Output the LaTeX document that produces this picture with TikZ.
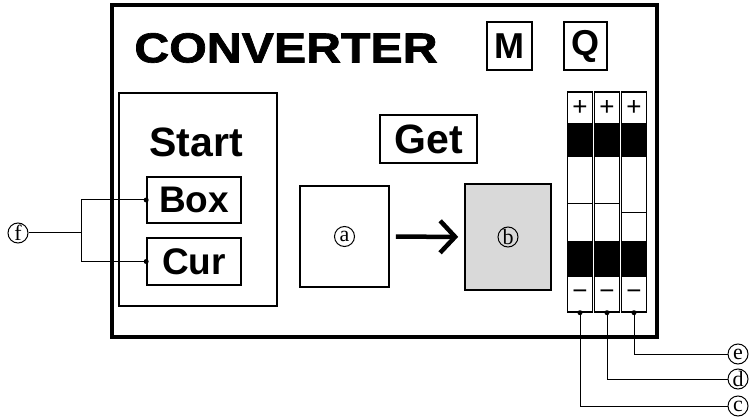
\documentclass[tikz,border=0pt]{standalone}
\usepackage{graphicx}
\usepackage{fontspec}
\newfontfamily\knopffont{Liberation Sans}
\newfontfamily\kreisfont{Liberation Serif}
\newfontfamily\titelfont{Liberation Sans Bold}[FakeBold=1.5]
\usetikzlibrary{arrows.meta}

\begin{document}
\begin{tikzpicture}[x=1pt, y=-1pt,
        >={Straight Barb[length=15pt,width=32pt]},   % Pfeilspitze
        taste/.style={draw, line width=1.6pt, inner sep=0pt, font=\knopffont\bfseries\fontsize{37}{37}\selectfont},
        feld/.style={draw, line width=1.6pt, inner sep=0pt},
        balken/.style={draw, line width=1.4pt, minimum width=25pt, minimum height=220pt, inner sep=0pt},
        kreis/.style={draw, circle, line width=1pt, minimum size=20pt, inner sep=0pt, font=\kreisfont\fontsize{22}{22}\selectfont},
        punkt/.style={circle, fill, inner sep=0pt, minimum size=5pt},
        zeichen/.style={inner sep=0pt, font=\knopffont\fontsize{26}{26}\selectfont},
        draht/.style={line width=1pt}]
        \useasboundingbox (0,0) rectangle (751,419);
        % Rahmen
        \node[draw, line width=3.5pt, minimum width=545pt, minimum height=332pt, inner sep=0pt] (rahmen) at (384.5,171) {};
        \node[inner sep=0pt, font=\titelfont\fontsize{42}{42}\selectfont] (titel) at (286,48) {\scalebox{1.15}[1]{CONVERTER}};
        \node[taste, minimum width=45pt, minimum height=48pt, font=\knopffont\bfseries\fontsize{36}{36}\selectfont] (m) at (509.5,46) {M};
        \node[taste, minimum width=43pt, minimum height=48pt, font=\knopffont\bfseries\fontsize{36}{36}\selectfont] (q) at (585.5,46) {Q};
        % linker Block
        \node[feld, minimum width=158pt, minimum height=213pt] (start) at (198,199.5) {};
        \node[inner sep=0pt, font=\knopffont\bfseries\fontsize{41}{41}\selectfont] (starttext) at (196,142) {Start};
        \node[taste, minimum width=94pt, minimum height=46pt] (box) at (194,200) {Box};
        \node[taste, minimum width=94pt, minimum height=47pt] (cur) at (194,261.5) {Cur};
        % Mitte
        \node[taste, minimum width=97pt, minimum height=48pt, font=\knopffont\bfseries\fontsize{41}{41}\selectfont] (get) at (428.5,139) {Get};
        \node[feld, minimum width=89pt, minimum height=101pt] (felda) at (344.5,236.5) {};
        \node[feld, fill=gray!30, minimum width=86pt, minimum height=106pt] (feldb) at (508,237) {};
        \node[kreis] (a) at (felda) {a};
        \node[kreis] (b) at (feldb) {b};
        \draw[->, line width=4.5pt, shorten <=6pt, shorten >=6pt] (felda) -- (feldb);
        % Balken
        \foreach \i/\x/\m in {1/580/203, 2/607/203, 3/634/212}{
            \node[balken] (bar\i) at (\x,202) {};
            \fill (\x-12.5,123) rectangle (\x+12.5,156);
            \fill (\x-12.5,242) rectangle (\x+12.5,277);
            \draw[line width=0.7pt] (\x-12.5,\m) -- (\x+12.5,\m);
            \draw[line width=1.2pt] (\x-12.5,156) -- (\x+12.5,156);
            \draw[line width=1.2pt] (\x-12.5,242) -- (\x+12.5,242);
            \node[zeichen] at (\x,107.5) {+};
            \node[zeichen] at (\x,294.5) {−};
            \node[punkt] at (bar\i.south) {};
        }
        % Beschriftung
        \node[kreis] (e) at (738,354) {e};
        \node[kreis] (d) at (738,379) {d};
        \node[kreis] (c) at (738,406) {c};
        \draw[draht] (bar3.south) |- (e);
        \draw[draht] (bar2.south) |- (d);
        \draw[draht] (bar1.south) |- (c);
        \node[kreis] (f) at (18,233) {f};
        \coordinate (fk) at (81,233);
        \draw[draht] (f) -- (fk);
        \draw[draht] (fk) |- (box.west);
        \draw[draht] (fk) |- (cur.west);
        \node[punkt] at (box.west) {};
        \node[punkt] at (cur.west) {};
\end{tikzpicture}
\end{document}
